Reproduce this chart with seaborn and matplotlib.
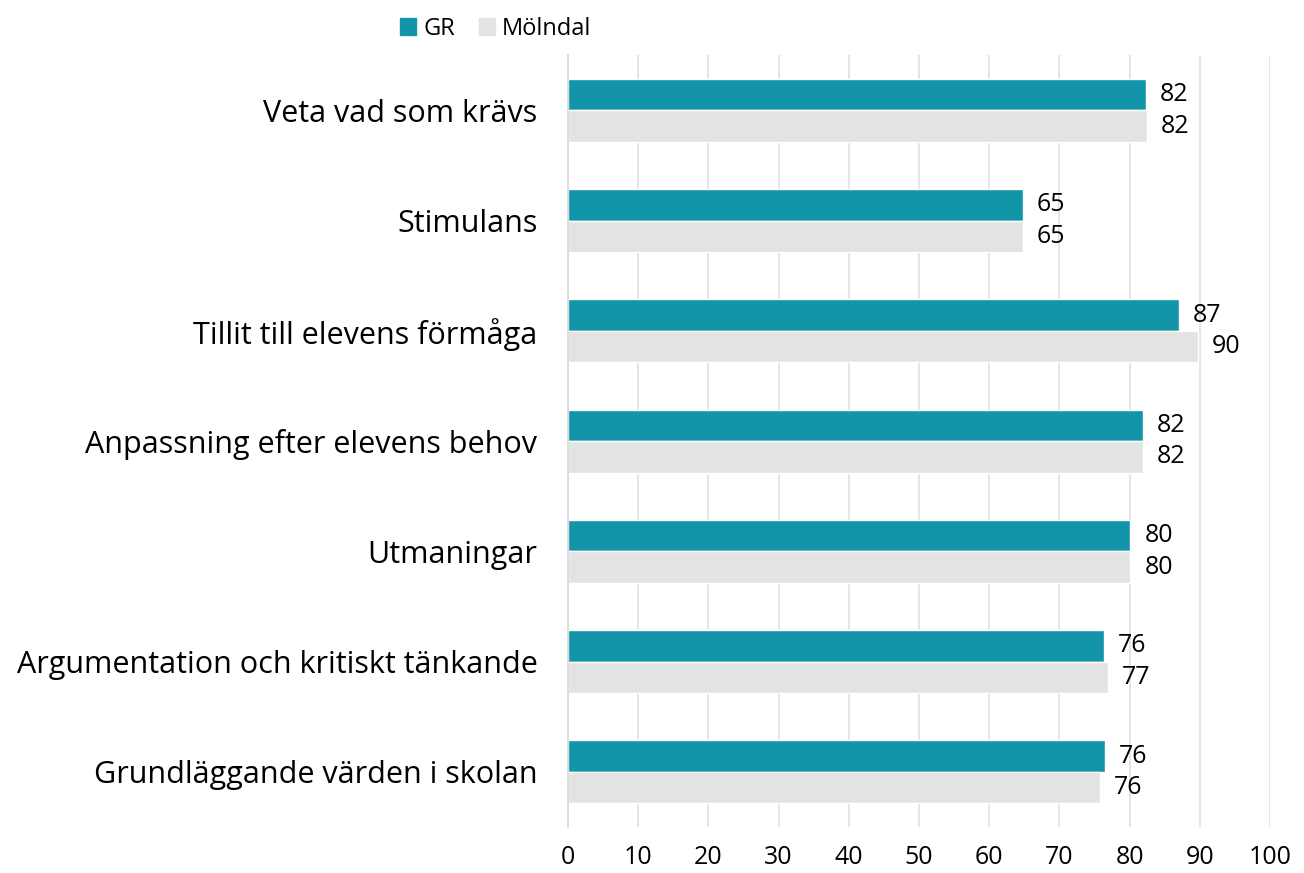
import numpy as np
import pandas as pd
import matplotlib
matplotlib.use("Agg")
import matplotlib.pyplot as plt
import seaborn as sns

# data
categories = [
    "Veta vad som krävs",
    "Stimulans",
    "Tillit till elevens förmåga",
    "Anpassning efter elevens behov",
    "Utmaningar",
    "Argumentation och kritiskt tänkande",
    "Grundläggande värden i skolan",
]
gr_values = [82.3, 64.8, 87.0, 81.9, 80.1, 76.4, 76.5]
molndal_values = [82.5, 64.8, 89.7, 81.9, 80.1, 76.9, 75.8]
gr_labels = [82, 65, 87, 82, 80, 76, 76]
molndal_labels = [82, 65, 90, 82, 80, 77, 76]
series = ["GR", "Mölndal"]
colors = ["#1295A8", "#E3E3E3"]

df = pd.DataFrame({
    "kategori": categories * 2,
    "serie": [series[0]] * len(categories) + [series[1]] * len(categories),
    "varde": gr_values + molndal_values,
})

sns.set_style("white")
plt.rcParams["font.family"] = ["Open Sans", "DejaVu Sans"]
plt.rcParams["text.color"] = "black"
plt.rcParams["xtick.color"] = "black"
plt.rcParams["ytick.color"] = "black"

fig = plt.figure(figsize=(13.04, 8.73), dpi=100)
ax = fig.add_axes([0.4356, 0.0527, 0.5384, 0.884])

sns.barplot(data=df, x="varde", y="kategori", hue="serie", orient="h",
            palette=colors, width=0.57, saturation=1, ax=ax, legend=False)

for cont, labs in zip(ax.containers, [gr_labels, molndal_labels]):
    ax.bar_label(cont, labels=[str(v) for v in labs], padding=10, fontsize=18,
                 color="black")

ax.set_xlim(0, 100)
ax.set_xticks(np.arange(0, 101, 10))
ax.set_ylim(len(categories) - 0.5, -0.5)
ax.set_xlabel("")
ax.set_ylabel("")
ax.grid(axis="x", color="#E3E3E3", linewidth=1.3)
ax.set_axisbelow(True)
for s in ["top", "right", "bottom"]:
    ax.spines[s].set_visible(False)
ax.spines["left"].set_color("#D9D9D9")
ax.spines["left"].set_linewidth(1.3)

ax.tick_params(axis="x", length=0, pad=13, labelsize=18)
ax.tick_params(axis="y", which="major", length=0, pad=22, labelsize=22)
ax.set_yticks(np.arange(len(categories) + 1) - 0.5, minor=True)
ax.tick_params(axis="y", which="minor", length=12, color="#D9D9D9", width=1.3)

handles = [plt.Rectangle((0, 0), 1, 1, color=c) for c in colors]
fig.legend(handles, series, loc="upper center", bbox_to_anchor=(0.38, 1.005),
           ncol=2, frameon=False, fontsize=17, handlelength=0.7, handleheight=0.7,
           handletextpad=0.3, columnspacing=1.0)

fig.savefig("out.png", dpi=100)
